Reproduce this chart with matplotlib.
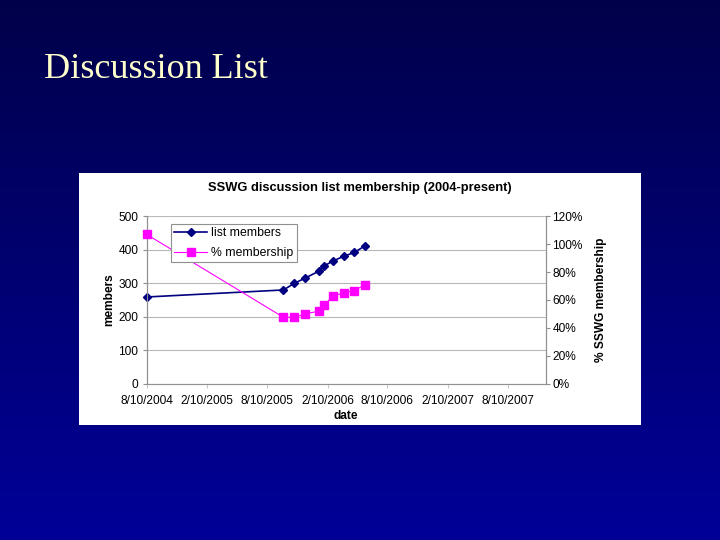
import matplotlib
matplotlib.use('Agg')

import numpy as np
import matplotlib.pyplot as plt
import matplotlib.dates as mdates
from matplotlib.ticker import FixedLocator, FuncFormatter
from datetime import date

# data
dates = [date(2004, 8, 10), date(2005, 9, 29), date(2005, 11, 1), date(2005, 12, 3),
         date(2006, 1, 14), date(2006, 1, 31), date(2006, 2, 27), date(2006, 4, 1),
         date(2006, 5, 2), date(2006, 6, 2)]
members = [259, 280, 300, 315, 336, 352, 367, 381, 392, 411]
pct_membership = [107, 47.6, 47.6, 50, 52, 56.4, 62.9, 65.2, 66.7, 70.8]

tick_dates = [date(2004, 8, 10), date(2005, 2, 10), date(2005, 8, 10), date(2006, 2, 10),
              date(2006, 8, 10), date(2007, 2, 10), date(2007, 8, 10)]
tick_labels = ['8/10/2004', '2/10/2005', '8/10/2005', '2/10/2006',
               '8/10/2006', '2/10/2007', '8/10/2007']

W, H = 720, 540
fig = plt.figure(figsize=(7.2, 5.4), dpi=100)

# slide background: vertical blue gradient
bg = fig.add_axes([0, 0, 1, 1])
grad = np.linspace(0, 1, 256).reshape(-1, 1)
top = np.array([0, 0, 74]) / 255.0
bot = np.array([0, 0, 152]) / 255.0
img = top + (bot - top) * grad[:, :, None]
bg.imshow(img, aspect='auto', extent=[0, 1, 0, 1])
bg.set_axis_off()

fig.text(44 / W, 1 - 69 / H, 'Discussion List', family='Liberation Serif',
         fontsize=26, color='#FFFFCC', va='center', ha='left')

# white chart box
box = fig.add_axes([79 / W, 1 - 425 / H, (641 - 79) / W, (425 - 173) / H])
box.set_facecolor('white')
box.set_xticks([])
box.set_yticks([])
for s in box.spines.values():
    s.set_visible(False)

FS = 8.6
fig.text(360 / W, 1 - 188.5 / H, 'SSWG discussion list membership (2004-present)',
         family='Liberation Sans', fontweight='bold', fontsize=9.3,
         ha='center', va='center', color='black')

ax = fig.add_axes([146.7 / W, 1 - 383.7 / H, (545.5 - 146.7) / W, (383.7 - 216.3) / H])
ax.set_facecolor('white')
ax2 = ax.twinx()

xd = [mdates.date2num(d) for d in dates]
ax.plot(xd, members, color='#000080', lw=1.2, marker='D', ms=4.5,
        label='list members', zorder=3, clip_on=False)
ax2.plot(xd, pct_membership, color='#FF00FF', lw=0.8, marker='s', ms=5.8,
         label='% membership', zorder=3, clip_on=False)

ax.set_xlim(mdates.date2num(date(2004, 8, 10)), mdates.date2num(date(2007, 12, 3)))
ax.set_ylim(0, 500)
ax2.set_ylim(0, 120)

ax.xaxis.set_major_locator(FixedLocator([mdates.date2num(d) for d in tick_dates]))
ax.set_xticklabels(tick_labels)
ax.set_yticks(range(0, 501, 100))
ax2.set_yticks(range(0, 121, 20))
ax2.yaxis.set_major_formatter(FuncFormatter(lambda v, p: '%d%%' % v))

ax.grid(axis='y', color='#b8b8b8', lw=0.8)
ax.set_axisbelow(True)

for a in (ax, ax2):
    for s in a.spines.values():
        s.set_color('#909090')
        s.set_linewidth(0.8)
    a.tick_params(labelsize=FS, colors='#909090', labelcolor='black', length=3, width=0.8)
ax.spines['top'].set_visible(False)
ax2.spines['top'].set_visible(False)
ax.spines['bottom'].set_color('#c8c8c8')
ax.tick_params(axis='x', colors='#c8c8c8', labelcolor='black', pad=5)
ax.tick_params(axis='y', pad=3)
ax2.tick_params(axis='y', pad=2)

for lab in ax.get_xticklabels() + ax.get_yticklabels() + ax2.get_yticklabels():
    lab.set_family('Liberation Sans')

ax.set_xlabel('date', family='Liberation Sans', fontweight='bold', fontsize=FS, labelpad=2)
ax.set_ylabel('members', family='Liberation Sans', fontweight='bold', fontsize=FS, labelpad=2)
ax2.set_ylabel('% SSWG membership', family='Liberation Sans', fontweight='bold',
               fontsize=FS, labelpad=9)

h1, l1 = ax.get_legend_handles_labels()
h2, l2 = ax2.get_legend_handles_labels()
leg = ax2.legend(h1 + h2, l1 + l2, loc='upper left', bbox_to_anchor=(0.06, 0.955),
                 prop={'family': 'Liberation Sans', 'size': 8.8}, frameon=True,
                 fancybox=False, edgecolor='#909090', framealpha=1,
                 handlelength=2.7, borderpad=0.3, labelspacing=0.6, handletextpad=0.3,
                 borderaxespad=0)
leg.get_frame().set_linewidth(0.8)

fig.savefig('out.png', dpi=100)
